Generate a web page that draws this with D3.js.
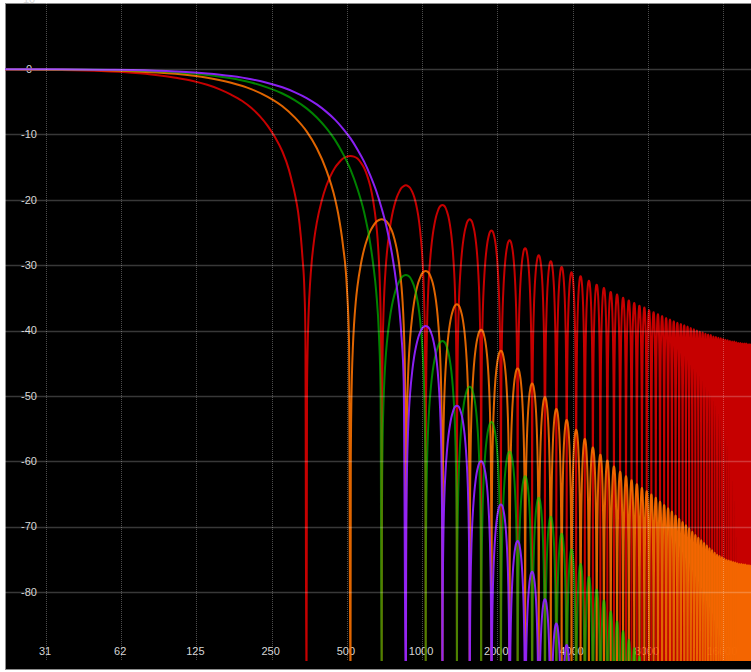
<!DOCTYPE html>
<html>
<head>
<meta charset="utf-8">
<script src="https://cdnjs.cloudflare.com/ajax/libs/d3/7.8.5/d3.min.js"></script>
<style>
   body { margin: 0; background: #fff; }
   svg { display: block; }
   text { font-family: "Liberation Sans", Arial, sans-serif; font-size: 11px; }
</style>
</head>
<body>
<div id="chart"></div>
<script>

// AXIS TICKS
var freqTicks = [31.25, 62.5, 125, 250, 500, 1000, 2000, 4000, 8000, 16000];
var freqLabels = ['31', '62', '125', '250', '500', '1000', '2000', '4000', '8000', '16000'];
var dbTicks = [10, 0, -10, -20, -30, -40, -50, -60, -70, -80];

// DISTANCE BETWEEN NEIGHBOURING NULLS (HZ)
var nullSpacing = 344.5;

// RED - MAIN LOBE [HZ, DB], FIRST NULL (IN SPACINGS), SIDELOBE PEAKS (DB)
var redMain = [[20, -0.05], [34, -0.14], [52, -0.32], [69, -0.58], [86, -0.91], [103, -1.33], [121, -1.83],
   [138, -2.42], [155, -3.11], [172, -3.92], [190, -4.86], [207, -5.94], [224, -7.2], [241, -8.69],
   [258, -10.45], [276, -12.62], [293, -15.39], [301, -17.13], [310, -19.23], [319, -21.9], [327, -25.6],
   [332, -28.8], [338, -33.8], [341, -39.9]];
var redFirstNull = 1;
var redPeaks = [-13.3, -17.8, -20.8, -23.0, -24.7, -26.2, -27.4, -28.5, -29.4, -30.3, -31.1, -31.7, -32.4,
   -33.0, -33.5, -34.1, -34.5, -35.0, -35.4, -35.8, -36.2, -36.5, -36.9, -37.2, -37.5, -37.8, -38.1, -38.3,
   -38.6, -38.8, -39.0, -39.2, -39.4, -39.6, -39.8, -40.0, -40.2, -40.3, -40.5, -40.6, -40.7, -40.9, -41.0,
   -41.1, -41.2, -41.3, -41.4, -41.5, -41.6, -41.7, -41.7, -41.8, -41.9, -41.9, -42.0, -42.0, -42.0, -42.1,
   -42.1, -42.1];

// ORANGE
var orangeMain = [[20, -0.03], [34, -0.08], [52, -0.18], [69, -0.33], [103, -0.74], [138, -1.33], [172, -2.1],
   [207, -3.07], [241, -4.26], [276, -5.7], [310, -7.44], [345, -9.54], [379, -12.12], [413, -15.39],
   [448, -19.82], [465, -22.83], [482, -26.9], [500, -33.5], [510, -41.8]];
var orangeFirstNull = 1.5;
var orangePeaks = [-23.0, -30.9, -36.0, -39.9, -43.1, -45.8, -48.1, -50.2, -52.0, -53.7, -55.2, -56.6, -57.9,
   -59.0, -59.9, -60.8, -61.6, -62.3, -62.9, -63.5, -64.1, -64.6, -65.1, -65.6, -66.2, -66.7, -67.2, -67.7,
   -68.3, -68.8, -69.3, -69.8, -70.3, -70.8, -71.3, -71.7, -72.1, -72.5, -72.9, -73.3, -73.6, -74.0, -74.3,
   -74.5, -74.7, -74.9, -75.1, -75.2, -75.3, -75.4, -75.5, -75.6, -75.7, -75.7, -75.8, -75.8, -75.9, -75.9,
   -76.0];

// GREEN
var greenMain = [[20, -0.02], [34, -0.06], [52, -0.13], [69, -0.23], [103, -0.51], [138, -0.91], [172, -1.42],
   [207, -2.07], [241, -2.84], [276, -3.75], [310, -4.8], [345, -6.02], [379, -7.42], [413, -9.01],
   [448, -10.84], [482, -12.95], [517, -15.4], [551, -18.32], [586, -21.92], [620, -26.67], [637, -29.83],
   [655, -34.05], [672, -40.8], [682, -49.2]];
var greenFirstNull = 2;
var greenPeaks = [-31.5, -41.6, -48.6, -54.0, -58.5, -62.3, -65.6, -68.5, -71.1, -73.5, -75.7, -77.7, -79.6,
   -81.3, -83.0, -84.5, -86.0, -87.3, -88.6, -89.9, -91.1];

// PURPLE
var purpleMain = [[20, -0.02], [34, -0.04], [52, -0.1], [69, -0.17], [103, -0.39], [138, -0.69], [172, -1.08],
   [207, -1.56], [241, -2.13], [276, -2.8], [310, -3.57], [345, -4.44], [379, -5.42], [413, -6.52],
   [448, -7.74], [482, -9.11], [517, -10.62], [551, -12.3], [586, -14.17], [620, -16.26], [655, -18.63],
   [689, -21.34], [724, -24.5], [758, -28.34], [792, -33.32], [810, -36.6], [827, -40.93], [844, -47.8]];
var purpleFirstNull = 2.5;
var purplePeaks = [-39.3, -51.5, -60.0, -66.6, -72.2, -76.9, -81.1, -84.8, -88.1, -91.2];

// CHART SETTINGS
var settings = {
   width: 751,
   height: 672,
   plot: { left: 5, top: 3, right: 751, bottom: 669 },
   curveBottom: 661,
   floor: 720,
   stroke: 2,
   grid: '#ffffff',
   label: '#d6d6d6'
};

// SHAPE OF ONE SIDELOBE: [FRACTION ACROSS LOBE, DB BELOW ITS PEAK]
var halfLobe = [[0.005, -36.1], [0.01, -30.1], [0.02, -24.0], [0.035, -19.2], [0.05, -16.1], [0.075, -12.6],
   [0.1, -10.2], [0.15, -6.9], [0.2, -4.6], [0.25, -3.0], [0.3, -1.8], [0.35, -1.0], [0.4, -0.4], [0.45, -0.1]];
var lobeShape = halfLobe
   .concat([[0.5, 0]])
   .concat(halfLobe.slice().reverse().map(d => [1 - d[0], d[1]]));

// SCALES
var xScale = d3.scaleLog()
   .domain([31.25, 16000])
   .range([46, 723])

var yScale = d3.scaleLinear()
   .domain([0, -80])
   .range([69, 592])

// CANVAS
var canvas = d3.select('#chart').append('svg')
   .attr('width', settings.width)
   .attr('height', settings.height)

canvas.append('defs').append('clipPath')
   .attr('id', 'clip')
   .append('rect')
      .attr('x', settings.plot.left)
      .attr('y', settings.plot.top)
      .attr('width', settings.plot.right - settings.plot.left)
      .attr('height', settings.curveBottom - settings.plot.top)

// PLOT BACKGROUND
canvas.append('rect')
   .attr('x', settings.plot.left + 0.5)
   .attr('y', settings.plot.top + 0.5)
   .attr('width', settings.plot.right - settings.plot.left)
   .attr('height', settings.plot.bottom - settings.plot.top)
   .attr('fill', '#000')
   .attr('stroke', '#8c8c8c')
   .attr('stroke-width', 1)

// TICK LABELS (BENEATH THE CURVES)
canvas.selectAll('.ylabel')
   .data(dbTicks)
      .enter().append('text')
         .attr('class', 'ylabel')
         .attr('x', 29)
         .attr('y', d => d === 10 ? -1 : yScale(d))
         .attr('dy', '0.35em')
         .attr('text-anchor', 'middle')
         .attr('fill', settings.label)
         .text(d => d)

canvas.selectAll('.xlabel')
   .data(freqTicks)
      .enter().append('text')
         .attr('class', 'xlabel')
         .attr('x', d => xScale(d) - 1)
         .attr('y', 651)
         .attr('dy', '0.35em')
         .attr('text-anchor', 'middle')
         .attr('fill', settings.label)
         .text((d, i) => freqLabels[i])

// BUILD ONE CONTINUOUS POINT LIST: MAIN LOBE, THEN EVERY SIDELOBE BETWEEN ITS NULLS
function lobes(main, firstNull, peaks) {
   var pts = main.map(d => [xScale(d[0]), yScale(d[1])]);

   peaks.forEach((peak, i) => {
      var fa = (firstNull + i) * nullSpacing;
      var fb = fa + nullSpacing;
      pts.push([xScale(fa), settings.floor]);
      lobeShape.forEach(s => {
         pts.push([xScale(fa + s[0] * (fb - fa)), yScale(peak + s[1])]);
      });
   });

   pts.push([xScale((firstNull + peaks.length) * nullSpacing), settings.floor]);
   return pts;
}

var pathify = d3.line()
   .x(d => d[0])
   .y(d => d[1])
   .curve(d3.curveMonotoneX)

var series = [
   { pts: lobes(redMain, redFirstNull, redPeaks), color: '#dc0000', opacity: 0.9 },
   { pts: lobes(orangeMain, orangeFirstNull, orangePeaks), color: '#f87000', opacity: 0.9 },
   { pts: lobes(greenMain, greenFirstNull, greenPeaks), color: '#00d800', opacity: 0.6 },
   { pts: lobes(purpleMain, purpleFirstNull, purplePeaks), color: '#9022ff', opacity: 0.95 }
];

// GENERATE CURVES
var curves = canvas.append('g')
   .attr('clip-path', 'url(#clip)')

curves.selectAll('path')
   .data(series)
      .enter().append('path')
         .attr('d', d => pathify(d.pts))
         .attr('fill', 'none')
         .attr('stroke', d => d.color)
         .attr('stroke-width', settings.stroke)
         .attr('stroke-linejoin', 'round')
         .attr('opacity', d => d.opacity)

// GRID ON TOP, FAINT
canvas.selectAll('.hgrid')
   .data(dbTicks.filter(d => d < 10))
      .enter().append('line')
         .attr('class', 'hgrid')
         .attr('x1', settings.plot.left)
         .attr('x2', settings.plot.right)
         .attr('y1', d => Math.round(yScale(d)) + 0.5)
         .attr('y2', d => Math.round(yScale(d)) + 0.5)
         .attr('stroke', settings.grid)
         .attr('stroke-opacity', 0.22)
         .attr('stroke-width', 1.5)

canvas.selectAll('.vgrid')
   .data(freqTicks)
      .enter().append('line')
         .attr('class', 'vgrid')
         .attr('x1', d => Math.round(xScale(d)) + 0.5)
         .attr('x2', d => Math.round(xScale(d)) + 0.5)
         .attr('y1', settings.plot.top)
         .attr('y2', settings.curveBottom)
         .attr('stroke', settings.grid)
         .attr('stroke-opacity', 0.3)
         .attr('stroke-width', 1)
         .attr('stroke-dasharray', '1,1')

</script>
</body>
</html>
